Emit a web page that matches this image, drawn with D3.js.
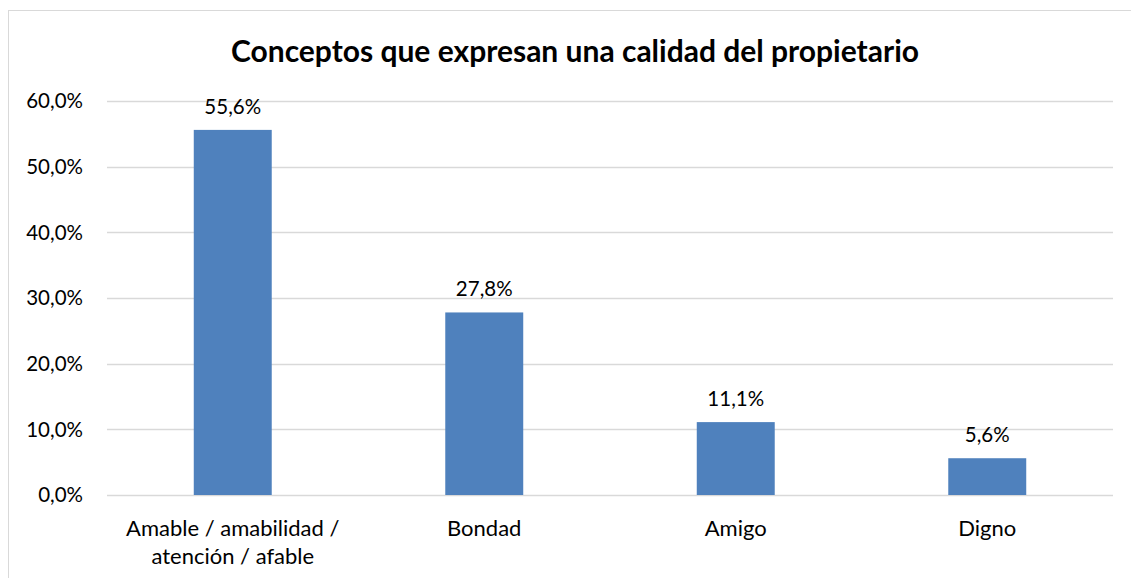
<!DOCTYPE html>
<html>
<head>
<meta charset="utf-8">
<script src="https://cdn.jsdelivr.net/npm/d3@7"></script>
<style>
  body { margin: 0; background: #fff; }
  text { font-family: Lato, "Open Sans", sans-serif; fill: #000; }
</style>
</head>
<body>
<svg id="chart" width="1131" height="578"></svg>
<script>
var title = 'Conceptos que expresan una calidad del propietario';
var categories = [['Amable / amabilidad /', 'atención / afable'], ['Bondad'], ['Amigo'], ['Digno']];
var values = [0.556, 0.278, 0.111, 0.056];
var yTicks = [0, 0.1, 0.2, 0.3, 0.4, 0.5, 0.6];

var svg = d3.select('#chart');
var margin = {top: 101, left: 107, right: 18, bottom: 83};
var width = 1131 - margin.left - margin.right;
var height = 578 - margin.top - margin.bottom;
var fmt = function(v) { return d3.format('.1%')(v).replace('.', ','); };

// chart border
svg.append('rect')
  .attr('x', 8.5).attr('y', 10.5)
  .attr('width', 1140).attr('height', 600)
  .attr('fill', 'none').attr('stroke', '#d9d9d9');

svg.append('text')
  .attr('x', 575).attr('y', 62)
  .attr('text-anchor', 'middle')
  .attr('font-size', 30)
  .attr('font-weight', 'bold')
  .text(title);

var g = svg.append('g').attr('transform', 'translate(' + margin.left + ',' + margin.top + ')');

var x = d3.scaleBand()
  .domain(d3.range(categories.length))
  .range([0, width])
  .paddingInner(0.69).paddingOuter(0.345);
var y = d3.scaleLinear().domain([0, 0.6]).range([height, 0]);

g.selectAll('.grid')
  .data(yTicks)
  .enter().append('line')
  .attr('x1', 0).attr('x2', width)
  .attr('y1', function(d) { return Math.round(y(d)) + 0.5; })
  .attr('y2', function(d) { return Math.round(y(d)) + 0.5; })
  .attr('stroke', '#d9d9d9').attr('stroke-width', 1.5);

g.selectAll('.ytick')
  .data(yTicks)
  .enter().append('text')
  .attr('x', -24).attr('y', function(d) { return y(d); })
  .attr('dy', '0.35em')
  .attr('text-anchor', 'end')
  .attr('font-size', 20.5)
  .text(fmt);

g.selectAll('.bar')
  .data(values)
  .enter().append('rect')
  .attr('x', function(d, i) { return x(i); })
  .attr('y', function(d) { return y(d); })
  .attr('width', x.bandwidth())
  .attr('height', function(d) { return height - y(d); })
  .attr('fill', '#4f81bd');

g.selectAll('.val')
  .data(values)
  .enter().append('text')
  .attr('x', function(d, i) { return x(i) + x.bandwidth() / 2; })
  .attr('y', function(d) { return y(d) - 16; })
  .attr('text-anchor', 'middle')
  .attr('font-size', 20.5)
  .text(fmt);

g.selectAll('.cat')
  .data(categories)
  .enter().append('text')
  .attr('text-anchor', 'middle')
  .attr('font-size', 22)
  .attr('transform', function(d, i) { return 'translate(' + (x(i) + x.bandwidth() / 2) + ',' + (height + 41) + ')'; })
  .each(function(d) {
    var t = d3.select(this);
    d.forEach(function(line, k) {
      t.append('tspan').attr('x', 0).attr('dy', k ? 28 : 0).text(line);
    });
  });
</script>
</body>
</html>
